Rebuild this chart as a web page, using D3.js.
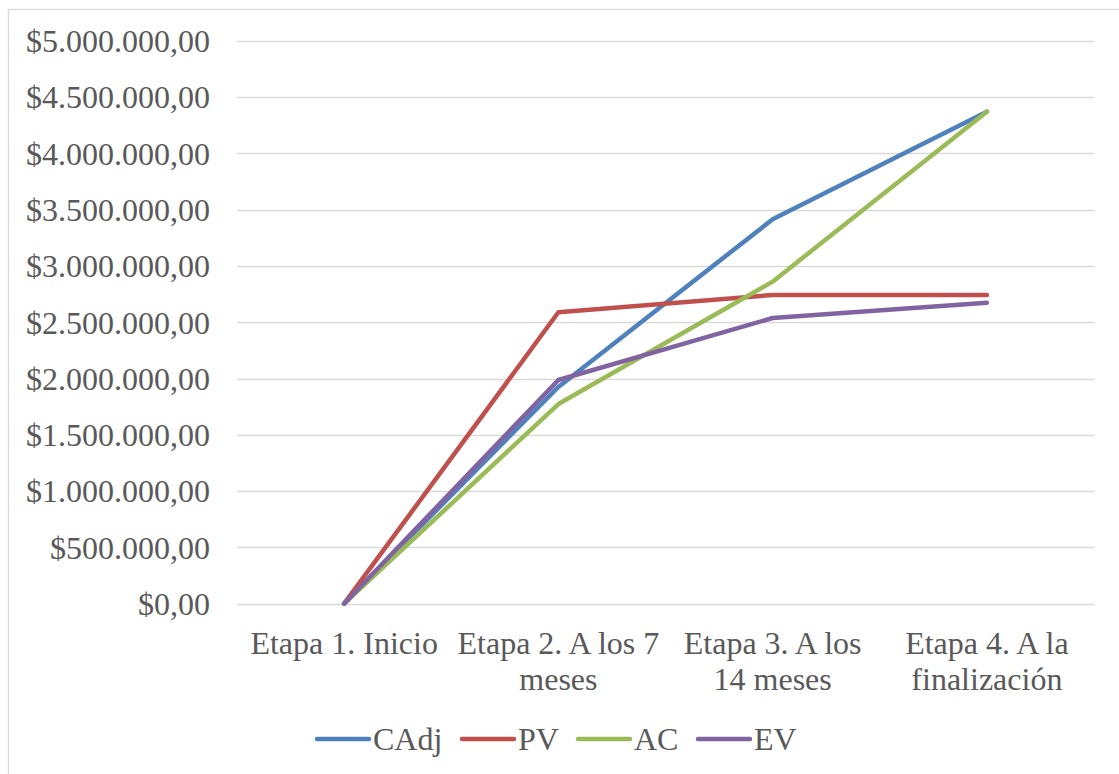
<!DOCTYPE html>
<html>
<head>
<meta charset="utf-8">
<script src="https://cdn.jsdelivr.net/npm/d3@7"></script>
<style>
  html, body { margin: 0; padding: 0; background: #fff; }
  svg { display: block; }
  text { font-family: "Liberation Serif", "Times New Roman", serif; fill: #595959; }
</style>
</head>
<body>
<svg id="chart" width="1119" height="774"></svg>
<script>
// Project stages (x axis categories); "\n" marks the label line break
const categories = [
  "Etapa 1. Inicio",
  "Etapa 2. A los 7\nmeses",
  "Etapa 3. A los\n14 meses",
  "Etapa 4. A la\nfinalización"
];

// Series values per stage
const seriesNames = ["CAdj", "PV", "AC", "EV"];
const cadjValues = [0, 1925000, 3414000, 4370000];
const pvValues   = [0, 2588000, 2742000, 2742000];
const acValues   = [0, 1773000, 2860000, 4370000];
const evValues   = [0, 1987000, 2537000, 2673000];

// Y axis ticks
const yTicks = [0, 500000, 1000000, 1500000, 2000000, 2500000, 3000000, 3500000, 4000000, 4500000, 5000000];

const colors = ["#4F81BD", "#C0504D", "#9BBB59", "#8064A2"];
const series = [cadjValues, pvValues, acValues, evValues].map((v, i) => ({
  name: seriesNames[i], values: v, color: colors[i]
}));

const svg = d3.select("#chart");
const FS = 32;

// Outer chart frame (right and bottom edges run past the view)
svg.append("rect")
  .attr("x", 8.5).attr("y", 9.5)
  .attr("width", 1130).attr("height", 780)
  .attr("fill", "#fff").attr("stroke", "#D9D9D9").attr("stroke-width", 1.3);

const plot = { left: 237, right: 1094, top: 40.7, bottom: 603.7 };

const x = d3.scaleBand().domain(categories).range([plot.left, plot.right]).padding(0);
const y = d3.scaleLinear().domain([0, 5000000]).range([plot.bottom, plot.top]);

// Number format: $5.000.000,00
const locale = d3.formatLocale({ decimal: ",", thousands: ".", grouping: [3], currency: ["$", ""] });
const fmt = locale.format("$,.2f");

// Horizontal gridlines
svg.append("g")
  .selectAll("line")
  .data(yTicks)
  .join("line")
  .attr("x1", plot.left).attr("x2", plot.right)
  .attr("y1", d => Math.round(y(d)) + 0.5).attr("y2", d => Math.round(y(d)) + 0.5)
  .attr("stroke", "#D9D9D9").attr("stroke-width", 1.3);

// Y axis labels
const yAxis = d3.axisLeft(y).tickValues(yTicks).tickFormat(fmt).tickSize(0).tickPadding(27);
const gy = svg.append("g").attr("transform", `translate(${plot.left},0)`).call(yAxis);
gy.select(".domain").remove();
gy.selectAll("text")
  .attr("font-family", "Liberation Serif, serif")
  .attr("font-size", FS)
  .attr("fill", "#595959")
  .attr("dy", "0.34em");

// X axis labels, split into lines
const xAxis = d3.axisBottom(x).tickSize(0).tickPadding(0);
const gx = svg.append("g").attr("transform", `translate(0,${plot.bottom})`).call(xAxis);
gx.select(".domain").remove();
gx.selectAll("text")
  .attr("font-family", "Liberation Serif, serif")
  .attr("font-size", FS)
  .attr("fill", "#595959")
  .attr("y", 0).attr("dy", null)
  .each(function(d) {
    const t = d3.select(this);
    t.text(null);
    d.split("\n").forEach((ln, i) => {
      t.append("tspan").attr("x", 0).attr("y", 50 + i * 36).text(ln);
    });
  });

// Series lines
const line = d3.line()
  .x((d, i) => x(categories[i]) + x.bandwidth() / 2)
  .y(d => y(d));

svg.append("g")
  .selectAll("path")
  .data(series)
  .join("path")
  .attr("d", d => line(d.values))
  .attr("fill", "none")
  .attr("stroke", d => d.color)
  .attr("stroke-width", 4.5)
  .attr("stroke-linejoin", "round")
  .attr("stroke-linecap", "round");

// Legend
const legendX = [317, 462, 578, 698];
const legendY = 739;
const lg = svg.append("g").selectAll("g").data(series).join("g")
  .attr("transform", (d, i) => `translate(${legendX[i]},${legendY})`);
lg.append("line")
  .attr("x1", 0).attr("x2", 52).attr("y1", 0).attr("y2", 0)
  .attr("stroke", d => d.color).attr("stroke-width", 4.5).attr("stroke-linecap", "round");
lg.append("text")
  .attr("x", 56).attr("y", 0).attr("dy", "0.34em")
  .attr("font-size", FS)
  .text(d => d.name);
</script>
</body>
</html>
